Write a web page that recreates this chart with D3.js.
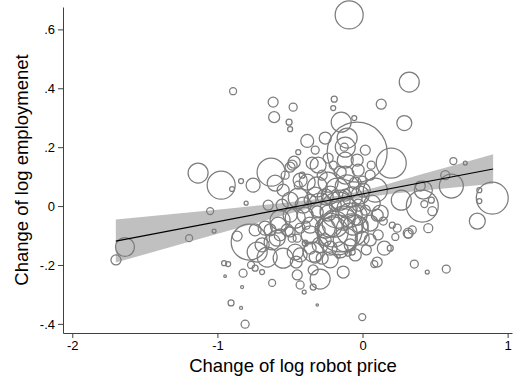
<!DOCTYPE html>
<html>
<head>
<meta charset="utf-8">
<script src="https://cdn.jsdelivr.net/npm/d3@7"></script>
<style>
  html, body { margin: 0; padding: 0; background: #fff; }
  svg { display: block; }
  text { font-family: "Liberation Sans", Arial, Helvetica, sans-serif; fill: #000; }
</style>
</head>
<body>
<script>
// Change in log robot price per industry-country cell
const robotPrice = [
  -0.092, 0.322, -0.892, -0.616, -0.478, -0.195, -0.202, 0.129, -0.609, -0.506,
  -0.499, 0.288, -0.057, -0.147, -0.037, -0.381, -0.257, -0.106, -0.119, -0.126,
  0.198, -0.630, -0.471, -0.443, -0.499, 0.626, 0.708, 0.060, 0.612, 0.419,
  0.398, 0.412, 0.426, 0.474, 0.481, 0.894, 0.805, 0.805, 0.791, 0.453,
  0.267, 0.343, 0.315, -1.133, -0.974, -0.837, -0.754, -1.637, -1.699, -1.050,
  -1.023, -1.195, -0.864, -0.899, -0.802, -0.954, -0.926, -0.947, -0.823, -0.768,
  -0.740, -0.830, -0.906, -0.837, -0.809, -0.781, -0.726, -0.657, -0.547, -0.623,
  -0.692, -0.623, -0.450, -0.457, -0.430, -0.402, -0.340, -0.292, -0.133, -0.312,
  -0.002, -0.340, 0.081, 0.357, 0.446, 0.577, 0.150, 0.191, 0.315, 0.239,
  0.226, 0.205, 0.143, 0.122, -0.071, -0.099, -0.168, -0.154, -0.174, -0.202,
  -0.223, -0.188, -0.133, -0.064, -0.037, 0.053, 0.101, -0.237, -0.312, -0.361,
  -0.292, -0.340, -0.278, 0.101, -0.106, -0.568, -0.464, -0.485, -0.450, -0.395,
  -0.588, -0.602, -0.485, -0.347, -0.306, -0.416, -0.443, -0.381, -0.312, -0.237,
  -0.174, -0.106, -0.071, -0.154, -0.257, -0.361, -0.499, -0.554, 0.005, 0.053,
  0.067, -0.037, -0.030, 0.088, -0.443, -0.409, -0.361, -0.326, -0.581, -0.671,
  -0.464, -0.395, -0.499, -0.568, -0.002, -0.085, -0.257, -0.030, 0.019, -0.188,
  -0.292, -0.430, -0.519, -0.223, -0.119, -0.050, -0.278, -0.154, -0.202, -0.002,
  0.570, -0.430, -0.326, -0.223, -0.119, -0.016, -0.085, -0.257, -0.119, -0.016,
  -0.395, -0.499, -0.430, -0.637, -0.740, -0.692, -0.223, -0.154, -0.050, 0.026,
  0.053, -0.168, -0.292, -0.071, -0.361, -0.547, -0.533, -0.237, -0.326, -0.119,
  0.019, 0.108, -0.650, -0.388
];

// Change in log employment for the same cells
const employment = [
  0.649, 0.421, 0.390, 0.353, 0.336, 0.363, 0.333, 0.346, 0.302, 0.285,
  0.261, 0.282, 0.299, 0.285, 0.183, 0.221, 0.231, 0.231, 0.200, 0.200,
  0.146, 0.115, 0.149, 0.183, 0.132, 0.153, 0.146, 0.139, 0.068, 0.054,
  0.068, 0.000, 0.007, 0.020, -0.017, 0.027, 0.054, 0.017, -0.051, -0.075,
  0.020, -0.081, -0.095, 0.112, 0.071, 0.085, 0.071, -0.139, -0.183, -0.017,
  -0.085, -0.109, -0.102, 0.058, 0.010, -0.194, -0.197, -0.238, -0.228, -0.200,
  -0.211, -0.275, -0.329, -0.346, -0.401, -0.122, -0.156, -0.173, -0.177, -0.122,
  -0.224, -0.261, -0.234, -0.190, -0.268, -0.292, -0.275, -0.248, -0.224, -0.336,
  -0.377, -0.217, -0.197, -0.197, -0.224, -0.214, -0.143, -0.143, -0.092, -0.075,
  -0.105, -0.065, -0.051, -0.024, -0.156, -0.160, -0.170, -0.081, -0.098, -0.088,
  -0.065, -0.061, -0.041, -0.065, -0.031, -0.058, -0.031, -0.024, -0.020, -0.065,
  -0.132, -0.156, -0.177, -0.190, -0.007, -0.048, -0.041, -0.109, -0.109, -0.122,
  -0.109, 0.078, 0.139, 0.146, 0.139, 0.105, 0.071, 0.081, 0.065, 0.081,
  0.054, 0.065, 0.031, 0.020, 0.031, 0.020, 0.020, 0.003, 0.054, 0.105,
  0.010, 0.156, 0.122, 0.054, 0.027, 0.003, -0.143, -0.173, -0.065, -0.075,
  -0.156, -0.126, -0.088, -0.098, -0.109, -0.132, -0.115, 0.003, -0.014, 0.003,
  -0.081, -0.075, -0.081, -0.143, 0.037, 0.078, 0.105, 0.115, 0.139, 0.088,
  0.105, 0.088, 0.037, 0.037, 0.105, 0.037, -0.031, -0.075, -0.115, -0.065,
  -0.031, -0.031, -0.166, -0.081, -0.081, -0.132, -0.183, -0.149, -0.166, -0.149,
  -0.115, -0.014, 0.003, -0.081, -0.098, 0.054, 0.105, 0.163, 0.190, 0.156,
  0.190, -0.098, 0.003, -0.065
];

// Base-period employment weight of each cell (bubble area)
const weight = [
  21.8, 11.1, 1.36, 2.78, 1.78, 1.0, 0.69, 2.78, 3.36, 1.0,
  0.69, 6.25, 0.69, 11.1, 100, 4.69, 4.0, 11.1, 11.1, 1.78,
  25, 21.8, 4.0, 0.69, 2.78, 1.36, 0.44, 1.78, 16, 9,
  2.78, 28.4, 1.36, 1.0, 2.25, 28.4, 0.69, 0.69, 7.1, 2.25,
  11.1, 1.78, 1.78, 11.1, 21.8, 0.69, 5.44, 10.0, 2.78, 1.36,
  0.44, 1.36, 2.78, 0.69, 0.44, 0.69, 0.69, 0.19, 1.78, 1.36,
  1.0, 0.25, 1.0, 0.25, 1.78, 36, 11.1, 11.1, 11.1, 7.1,
  0.69, 1.36, 2.78, 4.0, 1.78, 0.44, 1.0, 11.1, 4.0, 0.16,
  1.36, 2.78, 1.36, 1.78, 0.44, 1.78, 5.44, 1.0, 2.78, 1.78,
  1.36, 1.0, 1.78, 7.1, 1.0, 1.0, 0.44, 53.8, 44.4, 25,
  16, 18.8, 16, 11.1, 11.1, 7.1, 4.0, 7.1, 4.0, 7.1,
  7.1, 11.1, 4.0, 2.78, 11.1, 11.1, 11.1, 1.78, 1.78, 0.19,
  7.1, 7.1, 2.78, 4.0, 7.1, 1.0, 1.78, 7.1, 11.1, 11.1,
  16, 16, 11.1, 11.1, 7.1, 4.0, 7.1, 4.0, 5.44, 2.78,
  7.1, 4.0, 4.0, 16, 11.1, 7.1, 4.0, 4.0, 7.1, 5.44,
  7.1, 1.0, 2.78, 4.0, 5.44, 4.0, 4.0, 4.0, 2.78, 4.0,
  2.78, 2.78, 4.0, 5.44, 4.0, 4.0, 2.78, 4.0, 1.78, 1.78,
  2.25, 5.44, 7.1, 9, 9, 9, 16, 11.1, 16, 7.1,
  7.1, 5.44, 5.44, 4.0, 4.0, 5.44, 7.1, 7.1, 4.0, 2.78,
  4.0, 36, 16, 28.4, 9, 4.0, 1.78, 2.78, 1.78, 7.1,
  2.78, 2.78, 2.78, 1.78
];

// Fitted line and its 95% confidence band
const fitX = [-1.70, 0.90];
const fitY = [-0.119, 0.126];
const bandX  = [-1.70, -1.20, -0.70, -0.40, -0.15, 0.10, 0.40, 0.90];
const bandLo = [-0.192, -0.122, -0.053, -0.012, 0.017, 0.035, 0.052, 0.076];
const bandHi = [-0.046, -0.022, 0.003, 0.019, 0.037, 0.065, 0.107, 0.176];

// Axis ticks
const xTicks = [-2, -1, 0, 1];
const xTickLabels = ["-2", "-1", "0", "1"];
const yTicks = [-0.4, -0.2, 0, 0.2, 0.4, 0.6];
const yTickLabels = ["-.4", "-.2", "0", ".2", ".4", ".6"];

const W = 515, H = 381;
const margin = { top: 7, right: 3, bottom: 48, left: 63 };

const svg = d3.select("body").append("svg")
  .attr("width", W).attr("height", H);

const x = d3.scaleLinear().domain([-2.064, 1.03]).range([margin.left, W - margin.right]);
const y = d3.scaleLinear().domain([-0.431, 0.676]).range([H - margin.bottom, margin.top]);
const r = d3.scaleSqrt().domain([0, 100]).range([0, 30]);

// confidence band
const area = d3.area()
  .x((d, i) => x(bandX[i]))
  .y0((d, i) => y(bandLo[i]))
  .y1((d, i) => y(bandHi[i]))
  .curve(d3.curveMonotoneX);
svg.append("path")
  .datum(bandX)
  .attr("d", area)
  .attr("fill", "#c0c0c0");

// bubbles
const points = robotPrice.map((v, i) => ({ x: v, y: employment[i], w: weight[i] }));
svg.append("g")
  .selectAll("circle")
  .data(points)
  .join("circle")
  .attr("cx", d => x(d.x))
  .attr("cy", d => y(d.y))
  .attr("r", d => r(d.w))
  .attr("fill", "none")
  .attr("stroke", "#7c7c7c")
  .attr("stroke-width", 1.25);

// fitted line
svg.append("path")
  .datum(fitX)
  .attr("d", d3.line().x((d, i) => x(fitX[i])).y((d, i) => y(fitY[i])))
  .attr("fill", "none")
  .attr("stroke", "#000")
  .attr("stroke-width", 1.2);

// axes
const xAxis = d3.axisBottom(x)
  .tickValues(xTicks)
  .tickFormat((d, i) => xTickLabels[i])
  .tickSize(5)
  .tickPadding(3)
  .tickSizeOuter(0);
const gx = svg.append("g")
  .attr("transform", `translate(0,${H - margin.bottom})`)
  .call(xAxis);

const yAxis = d3.axisLeft(y)
  .tickValues(yTicks)
  .tickFormat((d, i) => yTickLabels[i])
  .tickSize(5)
  .tickPadding(3)
  .tickSizeOuter(0);
const gy = svg.append("g")
  .attr("transform", `translate(${margin.left},0)`)
  .call(yAxis);

[gx, gy].forEach(g => {
  g.select(".domain").attr("stroke", "#404040").attr("stroke-width", 1);
  g.selectAll(".tick line").attr("stroke", "#404040");
  g.selectAll(".tick text")
    .style("font-family", '"Liberation Sans", Arial, sans-serif')
    .attr("font-size", 13)
    .attr("fill", "#000");
});

// axis titles
svg.append("text")
  .attr("x", 293)
  .attr("y", 372)
  .attr("text-anchor", "middle")
  .attr("font-size", 18.5)
  .text("Change of log robot price");

svg.append("text")
  .attr("transform", "translate(28,170) rotate(-90)")
  .attr("text-anchor", "middle")
  .attr("font-size", 18.5)
  .text("Change of log employmenet");
</script>
</body>
</html>
